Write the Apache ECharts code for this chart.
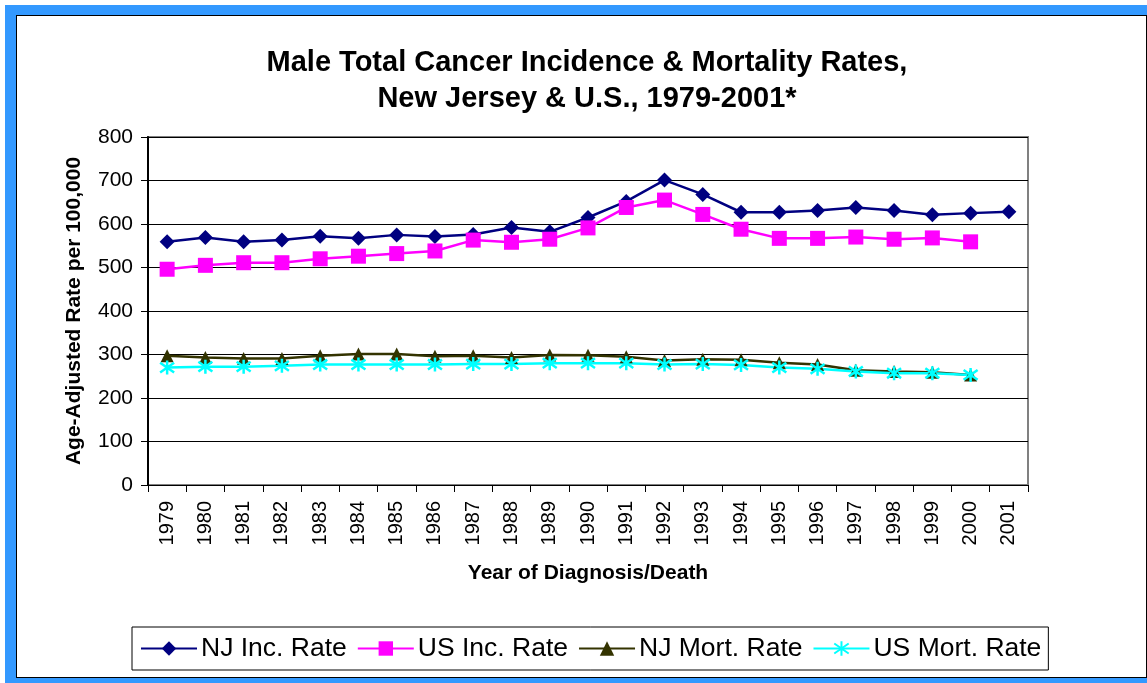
<!DOCTYPE html>
<html>
<head>
<meta charset="utf-8">
<script src="https://cdn.jsdelivr.net/npm/echarts@6/dist/echarts.min.js"></script>
<style>
html,body{margin:0;padding:0;background:#fff;}
#frame{position:absolute;left:5px;top:5px;width:1150px;height:690px;background:#3399FF;}
#inner{position:absolute;left:16px;top:15px;width:1129px;height:661px;background:#fff;border:1px solid #000;}
#chart{position:absolute;left:0;top:0;width:1147px;height:683px;}
</style>
</head>
<body>
<div id="frame"></div>
<div id="inner"></div>
<div id="chart"></div>
<script>
const years = ['1979','1980','1981','1982','1983','1984','1985','1986','1987','1988','1989','1990','1991','1992','1993','1994','1995','1996','1997','1998','1999','2000','2001'];
const njInc = [559,569,559,563,572,567,575,571,576,592,582,615,652,701,668,627,627,631,638,631,621,625,628];
const usInc = [496,505,511,511,520,526,532,538,563,558,565,591,638,655,622,588,567,567,570,565,568,559,null];
const njMort = [297,293,291,291,297,301,301,296,297,293,299,298,295,286,289,288,281,277,264,261,259,253,null];
const usMort = [270,272,272,274,277,277,277,277,278,278,280,280,280,277,278,276,270,267,261,257,257,253,null];
const yTicks = [0,100,200,300,400,500,600,700,800];

const FONT = 'Liberation Sans, Arial, sans-serif';
const starPath = 'path://M5,0L5,10M0,1.5L10,8.5M0,8.5L10,1.5';

const chart = echarts.init(document.getElementById('chart'), null, {renderer:'canvas'});
chart.setOption({
  animation: false,
  backgroundColor: 'transparent',
  textStyle: {fontFamily: FONT},
  title: {
    text: 'Male Total Cancer Incidence & Mortality Rates,\nNew Jersey & U.S., 1979-2001*',
    left: 582, top: 40, textAlign: 'center',
    textStyle: {fontFamily: FONT, fontSize: 29, fontWeight: 'bold', color: '#000', lineHeight: 36}
  },
  grid: {left: 148, right: 119, top: 137, bottom: 198, show: true, borderColor: '#808080', borderWidth: 2, backgroundColor: 'transparent'},
  legend: {
    left: 132, top: 627,
    orient: 'horizontal',
    borderColor: '#000', borderWidth: 1, backgroundColor: '#fff',
    padding: [8, 7, 8, 8],
    itemWidth: 56, itemHeight: 18, itemGap: 10,
    textStyle: {fontFamily: FONT, fontSize: 26.5, color: '#000', padding: [0,0,0,-1]},
    data: ['NJ Inc. Rate','US Inc. Rate','NJ Mort. Rate','US Mort. Rate']
  },
  xAxis: {
    type: 'category', data: years, boundaryGap: true,
    name: 'Year of Diagnosis/Death', nameLocation: 'middle', nameGap: 78,
    nameTextStyle: {fontFamily: FONT, fontSize: 21, fontWeight: 'bold', color: '#000'},
    axisLine: {lineStyle: {color: '#000', width: 1}},
    axisTick: {show: true, length: 7, lineStyle: {color: '#000'}},
    axisLabel: {rotate: 90, fontSize: 20, color: '#000', fontFamily: FONT, margin: 16},
    splitLine: {show: false}
  },
  yAxis: {
    type: 'value', min: 0, max: 800, interval: 100,
    name: 'Age-Adjusted Rate per 100,000', nameLocation: 'middle', nameGap: 63, nameRotate: 90,
    nameTextStyle: {fontFamily: FONT, fontSize: 21, fontWeight: 'bold', color: '#000'},
    axisLine: {show: true, lineStyle: {color: '#000', width: 2}},
    axisTick: {show: true, length: 7, lineStyle: {color: '#000'}},
    axisLabel: {fontSize: 21, color: '#000', fontFamily: FONT, margin: 15,
      formatter: v => yTicks.includes(v) ? String(v) : ''},
    splitLine: {show: true, lineStyle: {color: '#000', width: 1}}
  },
  series: [
    {name: 'NJ Inc. Rate', type: 'line', data: njInc, symbol: 'diamond', symbolSize: 15,
      lineStyle: {color: '#000080', width: 2.5}, itemStyle: {color: '#000080'}},
    {name: 'US Inc. Rate', type: 'line', data: usInc, symbol: 'rect', symbolSize: 15,
      lineStyle: {color: '#FF00FF', width: 2.5}, itemStyle: {color: '#FF00FF'}},
    {name: 'NJ Mort. Rate', type: 'line', data: njMort, symbol: 'triangle', symbolSize: 13,
      lineStyle: {color: '#333300', width: 2.5}, itemStyle: {color: '#333300'}},
    {name: 'US Mort. Rate', type: 'line', data: usMort, symbol: starPath, symbolSize: 14,
      lineStyle: {color: '#00FFFF', width: 2.5}, itemStyle: {color: '#00FFFF', borderColor: '#00FFFF', borderWidth: 2.5}}
  ]
});
</script>
</body>
</html>
